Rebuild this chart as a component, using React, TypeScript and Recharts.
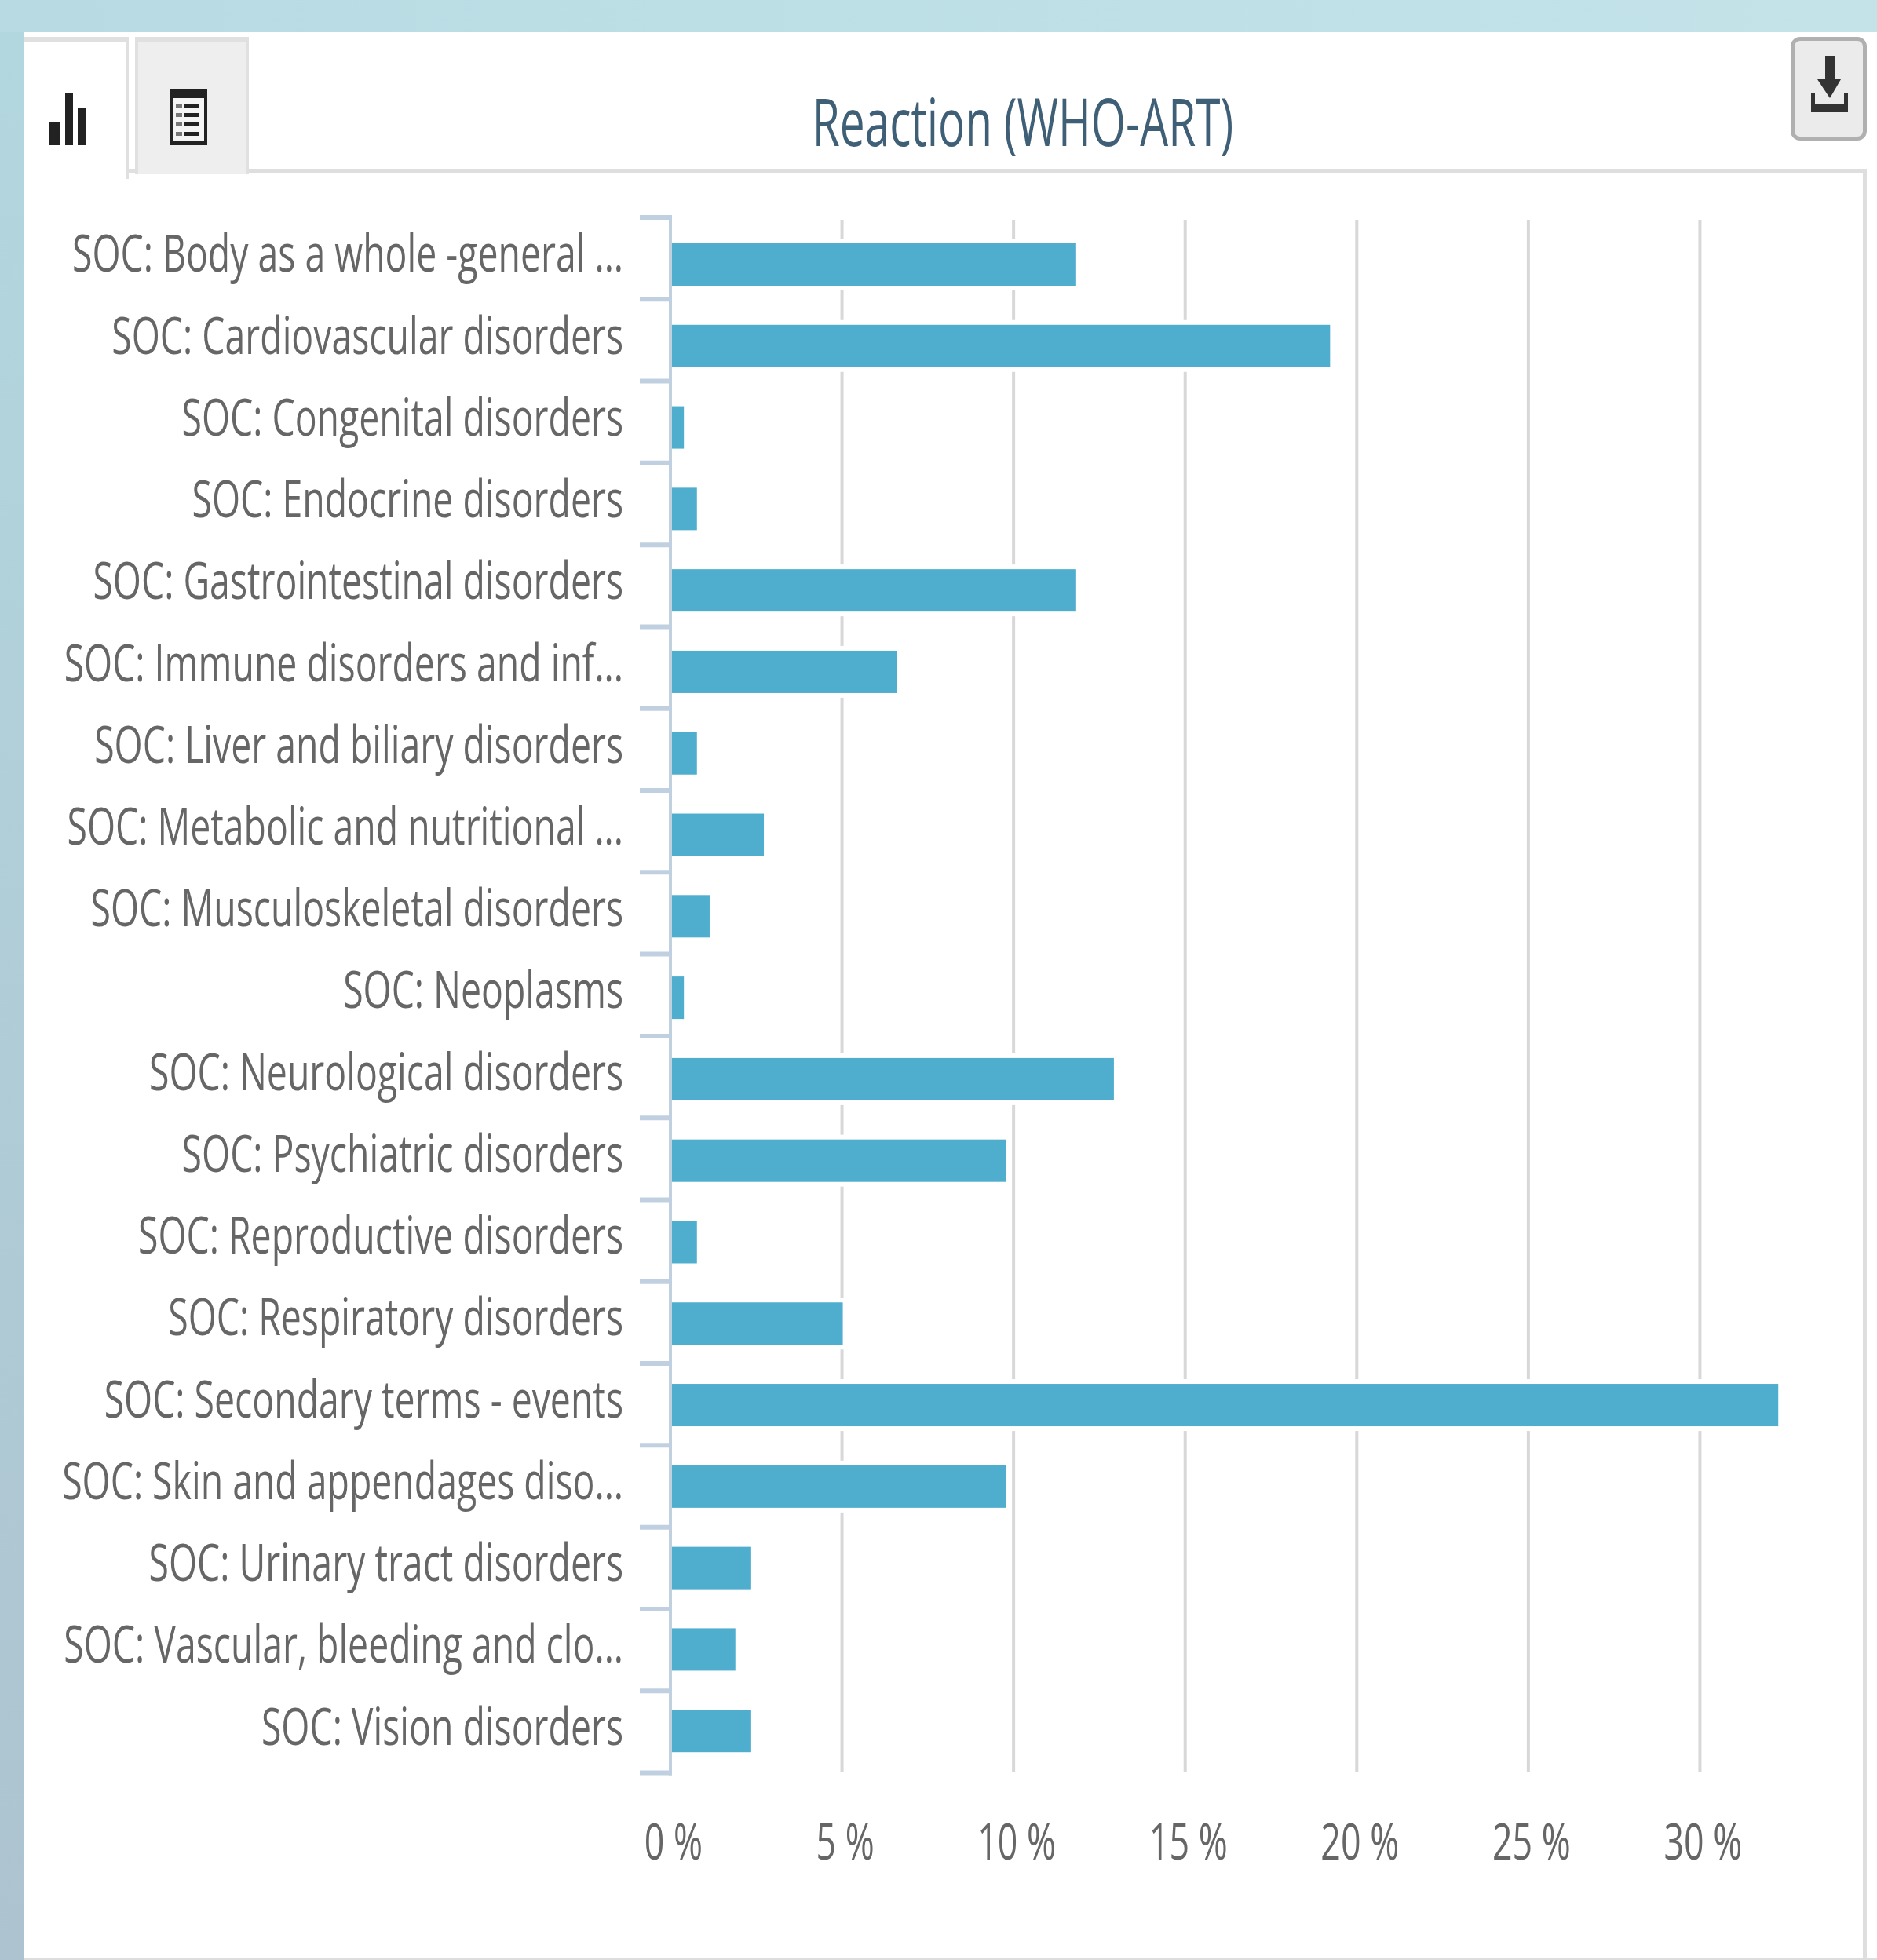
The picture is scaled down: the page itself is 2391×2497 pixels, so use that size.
import React from 'react';
import { BarChart, Bar, XAxis, YAxis, CartesianGrid } from 'recharts';

const categories = [
  'SOC: Body as a whole -general ...',
  'SOC: Cardiovascular disorders',
  'SOC: Congenital disorders',
  'SOC: Endocrine disorders',
  'SOC: Gastrointestinal disorders',
  'SOC: Immune disorders and inf...',
  'SOC: Liver and biliary disorders',
  'SOC: Metabolic and nutritional ...',
  'SOC: Musculoskeletal disorders',
  'SOC: Neoplasms',
  'SOC: Neurological disorders',
  'SOC: Psychiatric disorders',
  'SOC: Reproductive disorders',
  'SOC: Respiratory disorders',
  'SOC: Secondary terms - events',
  'SOC: Skin and appendages diso...',
  'SOC: Urinary tract disorders',
  'SOC: Vascular, bleeding and clo...',
  'SOC: Vision disorders',
];
const values = [11.8, 19.2, 0.37, 0.75, 11.8, 6.57, 0.75, 2.7, 1.12, 0.37, 12.9, 9.75, 0.75, 5.0, 32.26, 9.75, 2.33, 1.87, 2.33];
const xTicks = [0, 5, 10, 15, 20, 25, 30];
const rows = categories.map((name, i) => ({ name, value: values[i] }));

const FONT = '"Open Sans", sans-serif';
const TEXT = '#666666';
const SQUEEZE = 0.703;

function YTick(props: any) {
  const { y, index, payload } = props;
  const bandTop = y - 51.9;
  const markY = bandTop - 8 + 0.5 * index;
  const labelMid = y - 14.5 + 0.44 * index;
  const axisX = 854;
  return (
    <g>
      {index === 0 && <line x1={axisX} x2={axisX} y1={markY - 3} y2={markY + 19 * 104.3 + 3} stroke="#c0d0e0" strokeWidth={4} />}
      <line x1={815} x2={axisX} y1={markY} y2={markY} stroke="#c0d0e0" strokeWidth={6} />
      {index === categories.length - 1 && <line x1={815} x2={axisX} y1={markY + 104.3} y2={markY + 104.3} stroke="#c0d0e0" strokeWidth={6} />}
      <text
        transform={`translate(794,${labelMid + 24}) scale(${SQUEEZE},1)`}
        textAnchor="end"
        fontFamily={FONT}
        fontSize={66}
        fill={TEXT}
      >
        {payload.value}
      </text>
    </g>
  );
}

function XTick(props: any) {
  const { x, payload } = props;
  return (
    <text
      transform={`translate(${x + 3},2369) scale(0.7,1)`}
      textAnchor="middle"
      fontFamily={FONT}
      fontSize={64}
      fill={TEXT}
    >
      {`${payload.value} %`}
    </text>
  );
}

function HaloBar(props: any) {
  const { x, y, width, height, fill } = props;
  return (
    <g>
      <rect x={x + 2} y={y - 6} width={width + 2} height={height + 12} fill="#ffffff" />
      <rect x={x + 1} y={y} width={width - 1} height={height} fill={fill} />
    </g>
  );
}

function GridLine(props: any) {
  const { x1, x2, y1, y2, index } = props;
  if (index === 0 || index >= xTicks.length) return <g />;
  return <line x1={x1 - 1} x2={x2 - 1} y1={y1 - 5} y2={y2} stroke="#d8d8d8" strokeWidth={4} />;
}

const box = (left: number, top: number, width: number, height: number, background: string, extra: any = {}) => (
  <div style={{ position: 'absolute', left, top, width, height, background, ...extra }} />
);

export default function App() {
  return (
    <div style={{ position: 'absolute', left: 0, top: 0, width: 2391, height: 2497, background: '#ffffff', overflow: 'hidden' }}>
      {box(0, 0, 2391, 41, 'linear-gradient(90deg,#b8dbe3,#c3e3e9)')}
      {box(0, 41, 30, 2456, 'linear-gradient(180deg,#b3d7df,#adc3d0)')}
      {box(30, 2495, 2361, 2, '#dddddd')}
      {/* tabs */}
      {box(30, 47, 134, 6, '#e0e0e0')}
      {box(161, 47, 3, 181, '#e0e0e0')}
      {box(172, 47, 145, 175, '#eeeeee')}
      {box(172, 47, 145, 6, '#e0e0e0')}
      {box(172, 47, 4, 175, '#e0e0e0')}
      {box(314, 47, 3, 175, '#e0e0e0')}
      {box(164, 215, 8, 6, '#e0e0e0')}
      {box(317, 215, 2061, 6, '#dedede')}
      {box(2373, 215, 5, 2282, '#dedede')}
      {/* bar icon */}
      {box(63, 155, 14, 30, '#222222')}
      {box(83, 119, 10, 66, '#222222')}
      {box(99, 137, 11, 48, '#222222')}
      {/* table icon */}
      {box(217, 113, 47, 72, '#222222')}
      {box(221, 125, 39, 54, '#f4f4f4')}
      {[132, 144, 156, 168].map((t) => (
        <React.Fragment key={t}>
          {box(224, t, 8, 5, '#777777')}
          {box(235, t, 19, 5, '#222222')}
        </React.Fragment>
      ))}
      {/* download button */}
      <div style={{ position: 'absolute', left: 2281, top: 47, width: 97, height: 132, boxSizing: 'border-box', border: '5px solid #b0b0b0', borderRadius: 12, background: '#ebebeb' }} />
      {box(2325, 71, 12, 30, '#333333')}
      <svg style={{ position: 'absolute', left: 2300, top: 95 }} width={60} height={55}>
        <polygon points="15,6 45,6 31,30" fill="#333333" />
        <rect x={7} y={37} width={47} height={11} fill="#333333" />
        <rect x={7} y={24} width={5} height={14} fill="#333333" />
        <rect x={49} y={24} width={5} height={14} fill="#333333" />
      </svg>
      {/* title */}
      <div
        style={{
          position: 'absolute',
          left: 1303,
          top: 94,
          fontFamily: FONT,
          fontSize: 85,
          lineHeight: '118px',
          color: '#3f5f77',
          whiteSpace: 'nowrap',
          transform: 'translateX(-50%) scaleX(0.668)',
        }}
      >
        Reaction (WHO-ART)
      </div>
      <div style={{ position: 'absolute', left: 0, top: 0 }}>
        <BarChart
          width={2391}
          height={2497}
          data={rows}
          layout="vertical"
          margin={{ top: 285, bottom: 220, left: 0, right: 6 }}
          barSize={54}
          style={{ background: 'transparent' }}
        >
          <CartesianGrid horizontal={false} vertical={(p: any) => <GridLine {...p} key={p.key} />} />
          <XAxis type="number" domain={[0, 35]} ticks={xTicks} axisLine={false} tickLine={false} tick={<XTick />} height={20} interval={0} />
          <YAxis type="category" dataKey="name" width={855} axisLine={false} tickLine={false} tick={<YTick />} interval={0} />
          <Bar dataKey="value" fill="#4fadce" isAnimationActive={false} shape={<HaloBar />} />
        </BarChart>
      </div>
    </div>
  );
}
